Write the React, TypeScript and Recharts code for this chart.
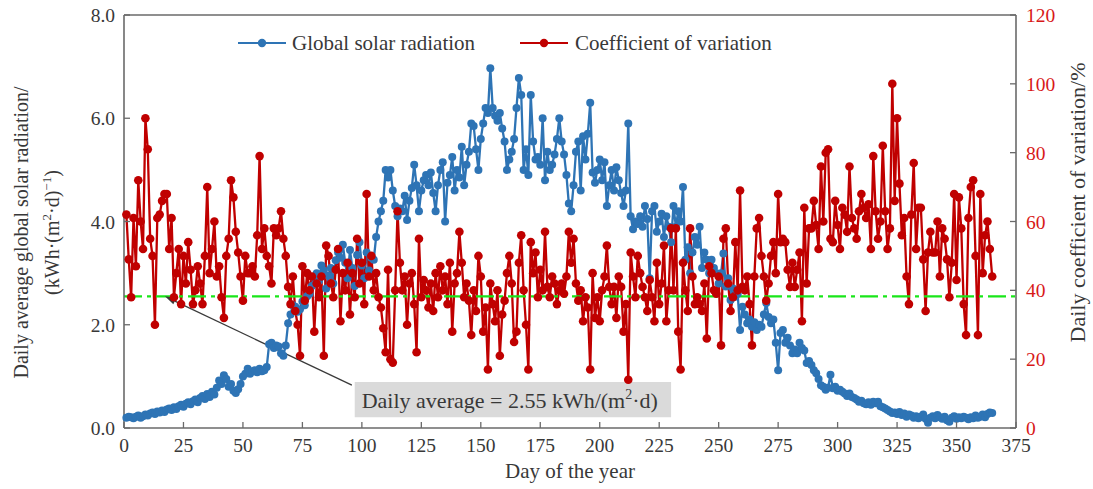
import React from 'react';
import { ComposedChart, Line, XAxis, YAxis, ReferenceLine, ReferenceArea } from 'recharts';

const FONT = '"Liberation Serif", "Times New Roman", Times, serif';
const BLUE = '#2e74b5';
const RED = '#c00000';
const AXIS = '#6a6a6a';
const TEXT = '#383838';
const RIGHT_TEXT = '#d81818';
const GREEN = '#19e619';

const seriesNames = ['Global solar radiation', 'Coefficient of variation'];
const xTicks = [0, 25, 50, 75, 100, 125, 150, 175, 200, 225, 250, 275, 300, 325, 350, 375];
const leftTicks = [0, 2, 4, 6, 8];
const rightTicks = [0, 20, 40, 60, 80, 100, 120];
const dailyAverage = 2.55;
const annotationText = 'Daily average = 2.55 kWh/(m';
const arrowFrom = { day: 95.8, value: 0.83 };
const arrowTo = { day: 17.2, value: 2.55 };
const boxRange = { x1: 97, x2: 230, y1: 0.21, y2: 0.89 };

const gsr: number[] = [
  0.20, 0.22, 0.21, 0.19, 0.22, 0.24, 0.20, 0.23, 0.26, 0.24,
  0.28, 0.30, 0.27, 0.32, 0.30, 0.34, 0.31, 0.36, 0.38, 0.35,
  0.40, 0.37, 0.42, 0.45, 0.41, 0.47, 0.50, 0.46, 0.52, 0.55,
  0.50, 0.58, 0.62, 0.56, 0.66, 0.60, 0.70, 0.65, 0.78, 0.92,
  0.85, 1.02, 0.95, 0.80, 0.85, 0.72, 0.68, 0.75, 0.85, 1.00,
  1.05, 1.15, 1.05, 1.10, 1.12, 1.08, 1.15, 1.10, 1.12, 1.18,
  1.62, 1.65, 1.55, 1.60, 1.58, 1.45, 1.40, 1.60, 2.03, 2.20,
  2.38, 2.35, 2.25, 2.30, 2.45, 2.38, 2.55, 2.60, 2.75, 2.90,
  3.00, 2.85, 3.15, 3.05, 2.70, 2.95, 3.10, 2.80, 3.25, 3.40,
  3.30, 3.55, 3.20, 2.90, 3.45, 3.10, 2.75, 3.35, 3.60, 3.15,
  2.90, 3.40, 3.05, 3.30, 3.26, 3.70, 4.00, 4.20, 4.40, 5.00,
  4.85, 5.00, 4.60, 4.30, 4.10, 4.25, 4.20, 4.50, 4.03, 4.40,
  4.65, 5.10, 4.70, 4.20, 4.60, 4.80, 4.90, 4.70, 4.95, 4.55,
  4.20, 4.70, 5.00, 5.15, 4.00, 4.75, 4.90, 5.25, 4.60, 5.00,
  4.85, 5.45, 4.70, 5.10, 5.35, 5.90, 5.85, 5.40, 5.00, 5.60,
  5.90, 6.20, 6.10, 6.97, 6.20, 6.05, 5.95, 6.10, 5.80, 5.55,
  5.00, 5.20, 5.35, 5.60, 6.20, 6.78, 6.45, 5.00, 5.40, 4.90,
  6.45, 5.55, 5.20, 5.25, 5.10, 6.00, 4.80, 5.35, 5.00, 5.10,
  5.30, 5.60, 6.00, 5.55, 5.30, 4.90, 4.35, 4.20, 4.70, 5.35,
  5.55, 4.60, 5.65, 5.20, 5.70, 6.30, 4.95, 4.75, 5.00, 5.20,
  4.80, 5.15, 4.30, 4.70, 5.00, 4.60, 5.05, 4.80, 4.55, 4.30,
  4.60, 5.90, 4.10, 3.85, 4.00, 3.95, 4.10, 3.90, 4.30, 4.05,
  2.90, 4.20, 4.30, 3.80, 4.00, 4.15, 3.70, 4.10, 3.90, 3.60,
  4.30, 3.90, 4.20, 4.00, 4.67, 3.26, 3.50, 3.00, 3.40, 3.70,
  3.55, 3.90, 3.10, 3.40, 3.26, 3.00, 3.26, 3.10, 3.00, 2.80,
  3.00, 3.38, 2.74, 2.90, 2.48, 2.70, 2.54, 2.60, 1.90, 2.35,
  2.20, 2.03, 2.10, 1.96, 2.05, 1.90, 2.00, 1.96, 2.20, 2.42,
  2.15, 2.03, 2.10, 1.65, 1.12, 1.84, 1.90, 1.65, 1.75, 1.60,
  1.45, 1.52, 1.45, 1.65, 1.55, 1.50, 1.26, 1.30, 1.22, 1.12,
  1.06, 0.95, 0.83, 0.80, 0.74, 0.78, 1.03, 0.77, 0.80, 0.72,
  0.74, 0.70, 0.67, 0.62, 0.67, 0.60, 0.58, 0.55, 0.51, 0.53,
  0.48, 0.46, 0.50, 0.45, 0.51, 0.48, 0.51, 0.42, 0.40, 0.38,
  0.35, 0.32, 0.29, 0.30, 0.27, 0.31, 0.25, 0.28, 0.22, 0.26,
  0.24, 0.20, 0.23, 0.19, 0.22, 0.26, 0.18, 0.10, 0.20, 0.23,
  0.19, 0.25, 0.21, 0.18, 0.22, 0.15, 0.12, 0.20, 0.23, 0.18,
  0.21, 0.19, 0.22, 0.20, 0.17, 0.21, 0.19, 0.24, 0.20, 0.22,
  0.26, 0.21, 0.27, 0.30, 0.29,
];

const cv: number[] = [
  62, 49, 38, 61, 47, 72, 60, 52, 90, 81,
  55, 50, 30, 61, 62, 66, 68, 68, 52, 61,
  38, 45, 52, 36, 50, 42, 54, 46, 36, 40,
  47, 42, 36, 50, 70, 45, 52, 60, 44, 47,
  38, 32, 50, 55, 72, 67, 57, 51, 44, 37,
  50, 45, 45, 47, 44, 56, 79, 52, 58, 50,
  47, 42, 58, 56, 58, 63, 55, 50, 41, 36,
  44, 34, 30, 21, 47, 37, 45, 40, 44, 28,
  42, 38, 44, 21, 53, 50, 42, 38, 46, 52,
  31, 45, 40, 48, 33, 45, 38, 55, 42, 48,
  36, 68, 44, 50, 40, 45, 38, 35, 29, 22,
  46, 20, 19, 40, 63, 48, 40, 44, 30, 42,
  45, 36, 22, 55, 38, 43, 40, 35, 42, 34,
  45, 38, 47, 40, 44, 36, 48, 28, 42, 45,
  57, 48, 38, 42, 37, 27, 40, 34, 50, 44,
  28, 35, 17, 42, 36, 31, 40, 21, 33, 37,
  45, 50, 42, 25, 28, 48, 56, 40, 30, 17,
  54, 45, 51, 38, 46, 40, 57, 41, 38, 44,
  42, 36, 40, 42, 39, 44, 57, 48, 55, 42,
  37, 40, 31, 38, 35, 17, 45, 32, 38, 31,
  40, 44, 53, 41, 36, 41, 32, 44, 41, 28,
  36, 14, 51, 44, 38, 50, 45, 41, 38, 34,
  43, 38, 31, 48, 36, 42, 53, 31, 40, 58,
  40, 58, 28, 17, 48, 40, 34, 58, 44, 36,
  38, 36, 34, 42, 26, 47, 45, 40, 39, 44,
  24, 55, 58, 42, 34, 38, 54, 40, 69, 41,
  40, 44, 36, 24, 44, 58, 61, 50, 44, 37,
  42, 50, 54, 45, 68, 54, 55, 54, 46, 41,
  48, 41, 46, 51, 31, 64, 42, 58, 58, 66,
  59, 52, 76, 60, 80, 81, 55, 54, 66, 59,
  52, 64, 62, 57, 76, 61, 58, 55, 63, 68,
  64, 61, 65, 52, 79, 63, 55, 60, 82, 63,
  52, 58, 100, 66, 90, 71, 56, 61, 44, 36,
  62, 77, 52, 64, 64, 49, 34, 51, 57, 51,
  51, 60, 44, 58, 55, 49, 38, 48, 68, 43,
  67, 58, 36, 27, 61, 70, 72, 50, 27, 68,
  45, 56, 60, 52, 44,
];

const days: number[] = gsr.map((_, i) => i + 1);

const data = days.map((d, i) => ({ day: d, gsr: gsr[i], cv: cv[i] }));

const TICK_FONT = 19.5;
const TITLE_FONT = 20;

const XTick = (props: any) => {
  const { x, y, payload } = props;
  return (
    <g>
      <line x1={x} y1={y} x2={x} y2={y - 6} stroke={AXIS} strokeWidth={1.3} />
      <text x={x} y={y + 24} textAnchor="middle" fontSize={TICK_FONT} fill={TEXT} fontFamily={FONT}>
        {payload.value}
      </text>
    </g>
  );
};

const LeftTick = (props: any) => {
  const { x, y, payload } = props;
  return (
    <g>
      <line x1={x} y1={y} x2={x + 6} y2={y} stroke={AXIS} strokeWidth={1.3} />
      <text x={x - 9} y={y + 7} textAnchor="end" fontSize={TICK_FONT} fill={TEXT} fontFamily={FONT}>
        {Number(payload.value).toFixed(1)}
      </text>
    </g>
  );
};

const RightTick = (props: any) => {
  const { x, y, payload } = props;
  return (
    <g>
      <line x1={x} y1={y} x2={x - 6} y2={y} stroke={AXIS} strokeWidth={1.3} />
      <text x={x + 10} y={y + 7} textAnchor="start" fontSize={TICK_FONT} fill={RIGHT_TEXT} fontFamily={FONT}>
        {payload.value}
      </text>
    </g>
  );
};

const LeftAxisLabel = (props: any) => {
  const vb = props.viewBox || { x: 0, y: 0, width: 0, height: 0 };
  const cy = vb.y + vb.height / 2 + 11;
  const x1 = vb.x + 8;
  const x2 = vb.x + 39;
  return (
    <g fontFamily={FONT} fontSize={TITLE_FONT} fill={TEXT}>
      <text transform={`translate(${x1},${cy}) rotate(-90)`} textAnchor="middle">
        Daily average global solar radiation/
      </text>
      <text transform={`translate(${x2},${cy}) rotate(-90)`} textAnchor="middle">
        <tspan>(kWh·(m</tspan>
        <tspan dy={-8} fontSize={13}>2</tspan>
        <tspan dy={8}>·d)</tspan>
        <tspan dy={-8} fontSize={13}>−1</tspan>
        <tspan dy={8}>)</tspan>
      </text>
    </g>
  );
};

const RightAxisLabel = (props: any) => {
  const vb = props.viewBox || { x: 0, y: 0, width: 0, height: 0 };
  const cy = vb.y + vb.height / 2 - 19;
  const x = vb.x + 69;
  return (
    <text transform={`translate(${x},${cy}) rotate(-90)`} textAnchor="middle" fontFamily={FONT} fontSize={22} fill={TEXT}>
      Daily coefficient of variation/%
    </text>
  );
};

const XAxisLabel = (props: any) => {
  const vb = props.viewBox || { x: 0, y: 0, width: 0, height: 0 };
  return (
    <text x={vb.x + vb.width / 2} y={vb.y + 50} textAnchor="middle" fontFamily={FONT} fontSize={21} fill={TEXT}>
      Day of the year
    </text>
  );
};

const BoxLabel = (props: any) => {
  const vb = props.viewBox || { x: 0, y: 0, width: 0, height: 0 };
  return (
    <text x={vb.x + 7} y={vb.y + vb.height / 2 + 8} fontFamily={FONT} fontSize={22} fill={TEXT}>
      <tspan>{annotationText}</tspan>
      <tspan dy={-9} fontSize={14}>2</tspan>
      <tspan dy={9}>·d)</tspan>
    </text>
  );
};

const ArrowShape = (props: any) => {
  const { x1, y1, x2, y2 } = props;
  if ([x1, y1, x2, y2].some((v) => typeof v !== 'number' || isNaN(v))) return null;
  const dx = x2 - x1;
  const dy = y2 - y1;
  const len = Math.sqrt(dx * dx + dy * dy) || 1;
  const ux = dx / len;
  const uy = dy / len;
  const headLen = 11;
  const headW = 3.5;
  const bx = x2 - ux * headLen;
  const by = y2 - uy * headLen;
  const px = -uy * headW;
  const py = ux * headW;
  return (
    <g>
      <line x1={x1} y1={y1} x2={bx} y2={by} stroke="#3a3a3a" strokeWidth={1.3} />
      <polygon points={`${x2},${y2} ${bx + px},${by + py} ${bx - px},${by - py}`} fill="#3a3a3a" />
    </g>
  );
};

const LegendIcon = ({ color }: { color: string }) => (
  <svg width={48} height={12} style={{ display: 'block' }}>
    <line x1={0} y1={6} x2={48} y2={6} stroke={color} strokeWidth={2.2} />
    <circle cx={24} cy={6} r={4.2} fill={color} />
  </svg>
);

export default function App() {
  return (
    <div style={{ position: 'absolute', left: 0, top: 0, width: 1093, height: 489, background: '#fff' }}>
      <ComposedChart
        width={1093}
        height={489}
        data={data}
        margin={{ top: 15, right: 20, bottom: 31, left: 20 }}
      >
        <XAxis
          xAxisId="main"
          dataKey="day"
          type="number"
          domain={[0, 375]}
          ticks={xTicks}
          interval={0}
          height={30}
          tickSize={0}
          tickMargin={0}
          tickLine={false}
          tick={<XTick />}
          axisLine={{ stroke: AXIS, strokeWidth: 1.6 }}
          label={<XAxisLabel />}
        />
        <YAxis
          yAxisId="left"
          orientation="left"
          type="number"
          domain={[0, 8]}
          ticks={leftTicks}
          interval={0}
          width={104}
          tickSize={0}
          tickMargin={0}
          tickLine={false}
          tick={<LeftTick />}
          axisLine={{ stroke: AXIS, strokeWidth: 1.6 }}
          label={<LeftAxisLabel />}
        />
        <YAxis
          yAxisId="right"
          orientation="right"
          type="number"
          domain={[0, 120]}
          ticks={rightTicks}
          interval={0}
          width={57}
          tickSize={0}
          tickMargin={0}
          tickLine={false}
          tick={<RightTick />}
          axisLine={{ stroke: AXIS, strokeWidth: 1.6 }}
          label={<RightAxisLabel />}
        />
        <ReferenceLine
          xAxisId="main"
          yAxisId="left"
          y={leftTicks[leftTicks.length - 1]}
          stroke={AXIS}
          strokeWidth={1.6}
        />
        <ReferenceArea
          xAxisId="main"
          yAxisId="left"
          x1={boxRange.x1}
          x2={boxRange.x2}
          y1={boxRange.y1}
          y2={boxRange.y2}
          fill="#dadada"
          fillOpacity={1}
          stroke="none"
          label={<BoxLabel />}
        />
        <Line
          xAxisId="main"
          yAxisId="left"
          dataKey="gsr"
          name={seriesNames[0]}
          stroke={BLUE}
          strokeWidth={2.3}
          dot={{ r: 4, fill: BLUE, stroke: BLUE, strokeWidth: 0 }}
          activeDot={false}
          isAnimationActive={false}
        />
        <Line
          xAxisId="main"
          yAxisId="right"
          dataKey="cv"
          name={seriesNames[1]}
          stroke={RED}
          strokeWidth={2.3}
          dot={{ r: 4.3, fill: RED, stroke: RED, strokeWidth: 0 }}
          activeDot={false}
          isAnimationActive={false}
        />
        <ReferenceLine
          xAxisId="main"
          yAxisId="left"
          y={dailyAverage}
          stroke={GREEN}
          strokeWidth={2.2}
          strokeDasharray="18 5 4 5"
        />
        <ReferenceLine
          xAxisId="main"
          yAxisId="left"
          segment={[
            { x: arrowFrom.day, y: arrowFrom.value },
            { x: arrowTo.day, y: arrowTo.value },
          ]}
          shape={<ArrowShape />}
        />
      </ComposedChart>
      <div style={{ position: 'absolute', left: 238, top: 30, display: 'flex', alignItems: 'center', fontFamily: FONT, fontSize: 21, color: TEXT, lineHeight: '26px' }}>
        <LegendIcon color={BLUE} />
        <span style={{ marginLeft: 6 }}>{seriesNames[0]}</span>
      </div>
      <div style={{ position: 'absolute', left: 520, top: 30, display: 'flex', alignItems: 'center', fontFamily: FONT, fontSize: 21, color: TEXT, lineHeight: '26px' }}>
        <LegendIcon color={RED} />
        <span style={{ marginLeft: 7 }}>{seriesNames[1]}</span>
      </div>
    </div>
  );
}
